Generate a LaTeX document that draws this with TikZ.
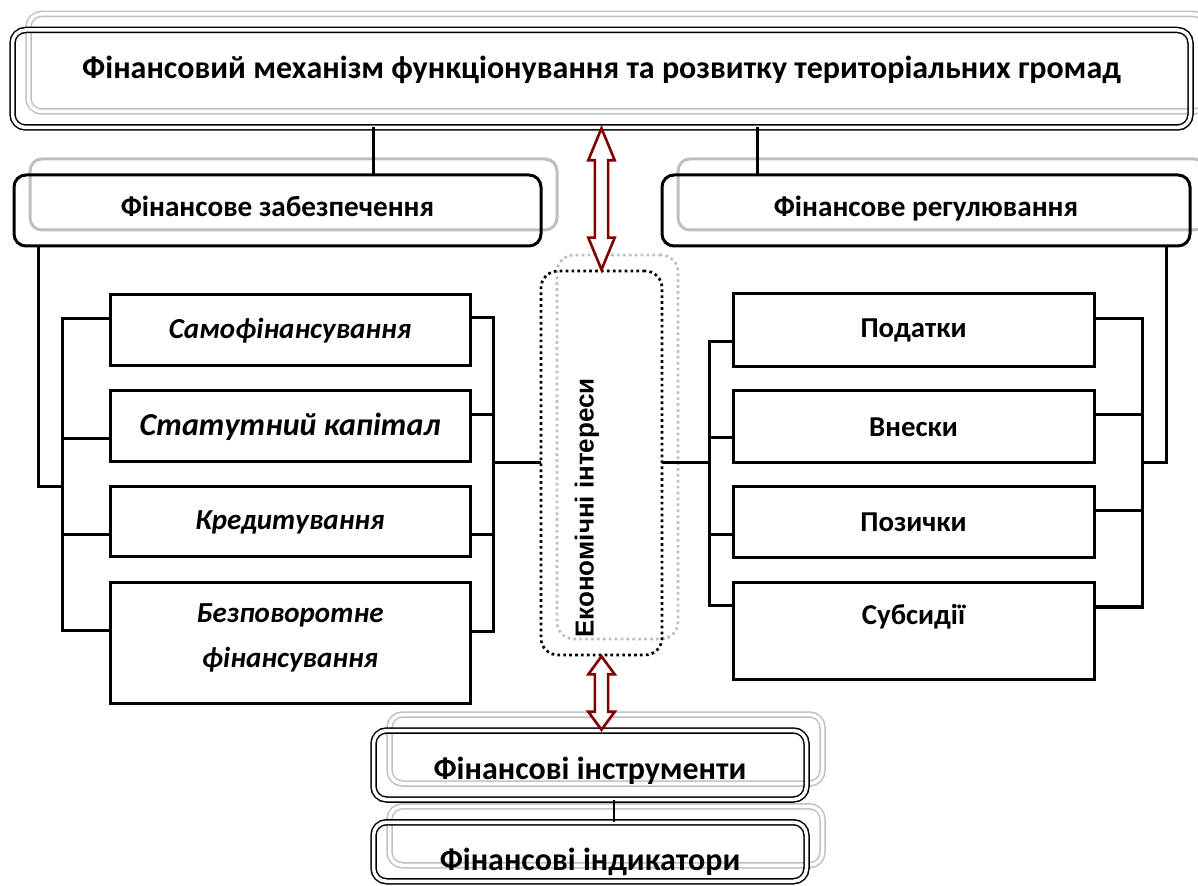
\documentclass[tikz,border=0pt]{standalone}
\usepackage{fontspec}
\setmainfont{Carlito}
\newfontfamily\ecofont{Liberation Sans}
\usetikzlibrary{calc}
\definecolor{Ink}{HTML}{000000}
\definecolor{Shade}{HTML}{BFBFBF}
\definecolor{Wine}{HTML}{7F0000}
\tikzset{
  mainbox/.style={draw=Ink,double,double distance=1.75pt,line width=0.75pt,rounded corners=6.5pt,inner sep=0pt,align=center,font=\fontsize{16}{19}\selectfont\bfseries},
  mainshade/.style={draw=Shade,double,double distance=1.75pt,line width=0.75pt,rounded corners=6.5pt,inner sep=0pt},
  headbox/.style={draw=Ink,line width=1.5pt,rounded corners=6pt,inner sep=0pt,minimum height=35.5pt,text height=10pt,text depth=3.5pt,font=\fontsize{14.6}{17}\selectfont\bfseries},
  headshade/.style={draw=Shade,line width=1.5pt,rounded corners=6pt,inner sep=0pt,minimum height=35.5pt},
  formbox/.style={draw=Ink,line width=1.5pt,inner sep=0pt,minimum width=180pt,align=center,font=\fontsize{14.5}{22.5}\selectfont\bfseries\itshape},
  toolbox/.style={draw=Ink,line width=1.5pt,inner sep=0pt,minimum width=180.5pt,font=\fontsize{14.4}{17}\selectfont\bfseries},
  ecobox/.style={draw=Ink,line width=1.35pt,dash pattern=on 1.35pt off 1.6pt,rounded corners=8.5pt,inner sep=0pt,minimum width=60.5pt,minimum height=192pt},
  ecoshade/.style={ecobox,draw=Shade},
  ecolabel/.style={inner sep=0pt,font=\ecofont\fontsize{13}{15}\selectfont\bfseries},
  link/.style={draw=Ink,line width=1.5pt,line cap=rect},
  thinlink/.style={draw=Ink,line width=0.6pt},
  redarr/.style={draw=Wine,line width=1.3pt,fill=white,line join=miter}
}
% hollow two-headed arrow: upper tip, lower tip, head length
\newcommand\hollowarr[3]{%
  \draw[redarr] let \p1=(#1), \p2=(#2) in
    (\x1,\y1) -- (\x1+6.6pt,\y1-#3) -- (\x1+3.3pt,\y1-#3) -- (\x1+3.3pt,\y2+#3)
    -- (\x1+6.6pt,\y2+#3) -- (\x1,\y2) -- (\x1-6.6pt,\y2+#3) -- (\x1-3.3pt,\y2+#3)
    -- (\x1-3.3pt,\y1-#3) -- (\x1-6.6pt,\y1-#3) -- cycle;}

\begin{document}
\begin{tikzpicture}[x=0.5pt,y=-0.5pt]
  \useasboundingbox (0,0) rectangle (1198,886);
  \clip (0,0) rectangle (1198,886);

  % shadows
  \node[mainshade,minimum width=589pt,minimum height=48.75pt] (topsh) at (617.5,62.75) {};
  \node[headshade,minimum width=263.5pt] (fzsh) at (293.5,194.5) {};
  \node[headshade,minimum width=264pt] (frsh) at (942,194.5) {};
  \node[ecoshade] (ecosh) at (617.5,447) {};
  \node[mainshade,minimum width=216.5pt,minimum height=34.5pt] (inssh) at (606,749) {};
  \node[mainshade,minimum width=216.5pt,minimum height=29.5pt] (indsh) at (606,835.75) {};

  % main boxes
  \node[mainbox,minimum width=589pt,minimum height=48.75pt,text depth=11pt] (top) at (601.5,78.75)
    {Фінансовий механізм функціонування та розвитку територіальних громад};
  \node[headbox,minimum width=263.5pt] (fz) at (277.5,210.5) {Фінансове забезпечення};
  \node[headbox,minimum width=264pt] (fr) at (926,210.5) {Фінансове регулювання};
  \node[ecobox] (eco) at (601.5,463) {};
  \node[ecolabel,rotate=90,anchor=west] (ecotxt) at (587,638) {Економічні інтереси};
  \node[mainbox,minimum width=216.5pt,minimum height=34.5pt,text height=14pt,text depth=0pt] (ins) at (590,765) {Фінансові інструменти};
  \node[mainbox,minimum width=216.5pt,minimum height=29.5pt,text height=19pt,text depth=0pt] (ind) at (590,851.75) {Фінансові індикатори};

  % forms of provision
  \node[formbox,minimum height=35.5pt] (s1) at (290,330.5) {Самофінансування};
  \node[formbox,minimum height=35.5pt,font=\fontsize{16}{19}\selectfont\bfseries\itshape] (s2) at (290,426.5) {Статутний капітал};
  \node[formbox,minimum height=35pt] (s3) at (290,522) {Кредитування};
  \node[formbox,minimum height=60pt,text depth=7pt] (s4) at (290,643) {Безповоротне\\фінансування};

  % regulation tools
  \node[toolbox,minimum height=36.5pt] (r1) at (913.5,330.5) {Податки};
  \node[toolbox,minimum height=36pt] (r2) at (913.5,427) {Внески};
  \node[toolbox,minimum height=35.5pt] (r3) at (913.5,522.5) {Позички};
  \node[toolbox,minimum height=48pt,text depth=17pt] (r4) at (913.5,631) {Субсидії};

  % links
  \draw[link] (top.south -| 373,0) -- (fz.north -| 373,0);
  \draw[link] (top.south -| 757,0) -- (fr.north -| 757,0);
  \draw[link] (fz.south -| 38,0) |- (62,487);
  \draw[link] (62,319) -- (62,630);
  \foreach \n/\y in {s1/319,s2/439,s3/535,s4/630}
    \draw[link] (62,\y) -- (\n.west |- 0,\y);
  \draw[link] (493,318) -- (493,631);
  \foreach \n/\y in {s1/318,s2/415,s3/535,s4/631}
    \draw[link] (\n.east |- 0,\y) -- (493,\y);
  \draw[link] (493,463) -- (eco.west);
  \draw[link] (eco.east) -- (709,463);
  \draw[link] (709,342) -- (709,606);
  \foreach \n/\y in {r1/342,r2/438,r3/535,r4/606}
    \draw[link] (709,\y) -- (\n.west |- 0,\y);
  \draw[link] (1142,319) -- (1142,607);
  \foreach \n/\y in {r1/319,r2/415,r3/511,r4/607}
    \draw[link] (\n.east |- 0,\y) -- (1142,\y);
  \draw[link] (fr.south -| 1166,0) |- (1142,463);
  \draw[thinlink] (ins.south -| 614,0) -- (ind.north -| 614,0);

  % interest arrows
  \hollowarr{top.south -| eco.north}{eco.north}{16pt}
  \hollowarr{eco.south}{ins.north -| eco.south}{9pt}
\end{tikzpicture}
\end{document}
